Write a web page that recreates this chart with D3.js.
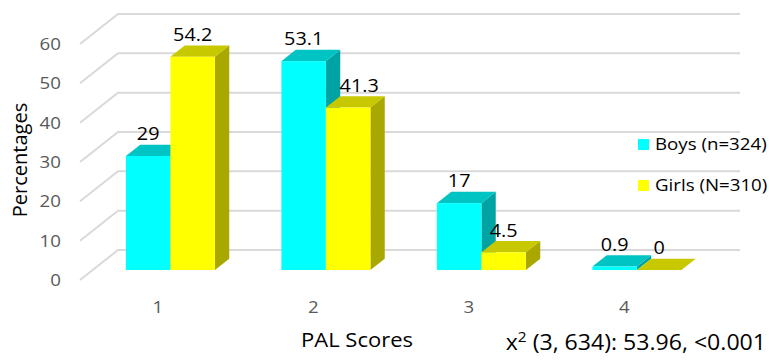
<!DOCTYPE html>
<html>
<head>
<meta charset="utf-8">
<script src="https://cdn.jsdelivr.net/npm/d3@7"></script>
<style>
  html, body { margin: 0; padding: 0; background: #fff; }
  svg { display: block; }
  text { font-family: "Open Sans", "Noto Sans", sans-serif; }
</style>
</head>
<body>
<svg id="chart" width="769" height="362"></svg>
<script>
// PAL score distribution by sex (percentages)
const categories = ["1", "2", "3", "4"];
const seriesNames = ["Boys (n=324)", "Girls (N=310)"];
const boys = [29, 53.1, 17, 0.9];
const girls = [54.2, 41.3, 4.5, 0];
const yTicks = [0, 10, 20, 30, 40, 50, 60];
const xTitle = "PAL Scores";
const yTitle = "Percentages";
const statNote = ["x", "2", " (3, 634): 53.96, <0.001"];

const series = [
  { name: seriesNames[0], values: boys,  front: "#00ffff", top: "#00c3c3", side: "#00a3a3" },
  { name: seriesNames[1], values: girls, front: "#ffff00", top: "#c8c800", side: "#a8a800" }
];

const svg = d3.select("#chart");

// Oblique 3D frame: back wall origin, wall width, depth vector toward the viewer
const wallLeft = 118, wallBase = 250, wallWidth = 622, wallHeight = 236;
const depthX = -38, depthY = 30;
const barFront = 0.667, barBack = 0.29;
const stretch = 1.1;

const y = d3.scaleLinear().domain([0, 60]).range([0, wallHeight]);
const x = d3.scaleBand().domain(categories).range([0, wallWidth]);
const xs = d3.scaleBand().domain(seriesNames).range([0, x.bandwidth()]).paddingOuter(0.747);

const proj = (px, hy, d) => [wallLeft + px + depthX * d, wallBase - hy + depthY * d];

function label(g, px, py, str, size, fill, anchor) {
  return g.append("text")
    .attr("transform", `translate(${px},${py}) scale(${stretch},1)`)
    .attr("text-anchor", anchor || "middle")
    .attr("font-size", size)
    .attr("fill", fill)
    .text(str);
}

// Gridlines: back wall horizontals plus side-wall diagonals
const grid = svg.append("g").attr("stroke", "#d9d9d9").attr("stroke-width", 2).attr("fill", "none");
yTicks.forEach(t => {
  const a = proj(0, y(t), 1), b = proj(0, y(t), 0), c = proj(wallWidth, y(t), 0);
  grid.append("polyline").attr("points", [a, b, c].map(p => p.join(",")).join(" "));
});

// Value axis labels at the front edge
const axisG = svg.append("g");
yTicks.forEach(t => {
  const p = proj(0, y(t), 1);
  label(axisG, p[0] - 19, p[1], t, 17, "#595959", "end").attr("dy", "0.35em");
});

// Category labels
categories.forEach(c => {
  const p = proj(x(c) + x.bandwidth() / 2, 0, 1);
  label(axisG, p[0], p[1] + 33, c, 17, "#595959");
});

// Bars, drawn left to right so the nearer faces overlap correctly
const barsG = svg.append("g");
const labelsG = svg.append("g");
const pts = arr => arr.map(p => p.join(",")).join(" ");
// label nudge where a taller neighbour's side face would collide
const labelNudge = { "1|1": 11 };

categories.forEach((c, i) => {
  series.forEach((s, j) => {
    const v = s.values[i];
    const x0 = x(c) + xs(s.name), w = xs.bandwidth(), h = y(v);
    const fBL = proj(x0, 0, barFront), fTR = proj(x0 + w, h, barFront);
    const g = barsG.append("g");
    g.append("polygon").attr("fill", s.side)
      .attr("points", pts([proj(x0 + w, 0, barFront), proj(x0 + w, h, barFront), proj(x0 + w, h, barBack), proj(x0 + w, 0, barBack)]));
    g.append("polygon").attr("fill", s.top)
      .attr("points", pts([proj(x0, h, barFront), proj(x0 + w, h, barFront), proj(x0 + w, h, barBack), proj(x0, h, barBack)]));
    g.append("rect").attr("fill", s.front)
      .attr("x", fBL[0]).attr("y", fTR[1])
      .attr("width", fTR[0] - fBL[0]).attr("height", fBL[1] - fTR[1]);
    const topBack = proj(x0, h, barBack)[1];
    const nudge = labelNudge[i + "|" + j] || 0;
    label(labelsG, (fBL[0] + fTR[0]) / 2 + nudge, topBack - 4.5, v, 18, "#000");
  });
});

// Legend
const legend = svg.append("g");
series.forEach((s, j) => {
  const ly = 139 + j * 41;
  legend.append("rect").attr("x", 638).attr("y", ly).attr("width", 11).attr("height", 11).attr("fill", s.front);
  label(legend, 655, ly + 10.5, s.name, 17, "#000", "start");
});

// Axis titles
label(svg, 357, 347, xTitle, 20, "#000");
svg.append("text")
  .attr("transform", "translate(27,160) rotate(-90)")
  .attr("text-anchor", "middle")
  .attr("font-size", 20)
  .attr("fill", "#000")
  .text(yTitle);

// Chi-square note
const note = svg.append("text")
  .attr("transform", `translate(766,350) scale(${stretch},1)`)
  .attr("text-anchor", "end")
  .attr("font-size", 21)
  .attr("fill", "#000");
note.append("tspan").text(statNote[0]);
note.append("tspan").attr("font-size", 14).attr("dy", -8).text(statNote[1]);
note.append("tspan").attr("dy", 8).text(statNote[2]);
</script>
</body>
</html>
